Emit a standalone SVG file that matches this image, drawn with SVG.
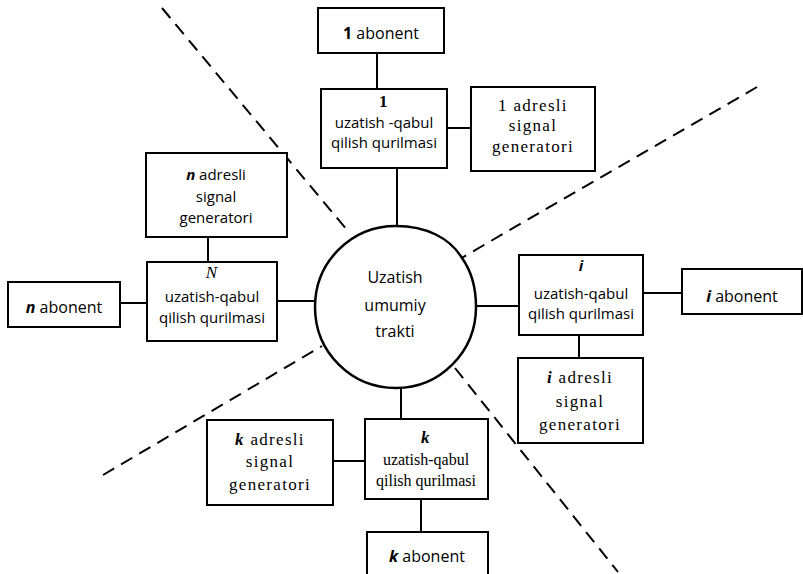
<svg xmlns="http://www.w3.org/2000/svg" width="803" height="574" viewBox="0 0 803 574">
<style>
.box{fill:#fff;stroke:#000;stroke-width:2}
.ln{stroke:#000;stroke-width:2;fill:none}
.dash{stroke:#000;stroke-width:2;fill:none;stroke-dasharray:13 8}
.s{font-family:"Open Sans","Liberation Sans",sans-serif;font-size:15px;fill:#000;text-anchor:middle}
.s16{font-size:16px}
.r{font-family:"Liberation Serif","Times New Roman",serif;font-size:17px;fill:#000;text-anchor:middle;letter-spacing:1.3px}
.r16{font-size:16px;letter-spacing:0}
.b{font-weight:bold}
.bi{font-weight:bold;font-style:italic}
.it{font-style:italic}
</style>
<rect width="803" height="574" fill="#fff"/>
<g id="dashes">
<line class="dash" x1="162" y1="8" x2="347" y2="230"/>
<line class="dash" x1="757" y1="87" x2="458" y2="260"/>
<line class="dash" x1="103" y1="475" x2="322" y2="346"/>
<line class="dash" x1="455" y1="368" x2="618" y2="572"/>
</g>
<g id="connectors">
<line class="ln" x1="377" y1="53" x2="377" y2="89"/>
<line class="ln" x1="447" y1="128" x2="471" y2="128"/>
<line class="ln" x1="397" y1="168" x2="397" y2="227"/>
<line class="ln" x1="208" y1="237" x2="208" y2="262"/>
<line class="ln" x1="120" y1="303" x2="147" y2="303"/>
<line class="ln" x1="277" y1="301" x2="316" y2="301"/>
<line class="ln" x1="475" y1="306" x2="519" y2="306"/>
<line class="ln" x1="643" y1="293" x2="682" y2="293"/>
<line class="ln" x1="579" y1="335" x2="579" y2="358"/>
<line class="ln" x1="401" y1="387" x2="401" y2="419"/>
<line class="ln" x1="333" y1="461" x2="365" y2="461"/>
<line class="ln" x1="421" y1="499" x2="421" y2="532"/>
</g>
<g id="trakt">
<path class="box" style="stroke-width:2.5px" d="M396 226 C426 226 450 238 462 258 C472 272 476 288 476 307 C476 352 440 388 396 388 C351 388 315 352 315 307 C315 262 351 226 396 226 Z"/>
<text class="s s16" x="395" y="283">Uzatish</text>
<text class="s s16" x="395" y="311">umumiy</text>
<text class="s s16" x="395" y="337">trakti</text>
</g>
<g id="ab1">
<rect class="box" x="318" y="8" width="126" height="45"/>
<text class="s s16" x="381" y="39"><tspan class="b">1</tspan> abonent</text>
</g>
<g id="dev1">
<rect class="box" x="321" y="89" width="126" height="79"/>
<text class="r b" x="384" y="107">1</text>
<text class="s" x="384" y="128">uzatish -qabul</text>
<text class="s" x="384" y="148">qilish qurilmasi</text>
</g>
<g id="gen1">
<rect class="box" x="471" y="87" width="124" height="84"/>
<text class="r" x="533" y="111">1 adresli</text>
<text class="r" x="533" y="131">signal</text>
<text class="r" x="533" y="152">generatori</text>
</g>
<g id="genn">
<rect class="box" x="146" y="153" width="141" height="84"/>
<text class="s" x="216" y="180"><tspan class="bi">n</tspan> adresli</text>
<text class="s" x="216" y="202">signal</text>
<text class="s" x="216" y="223">generatori</text>
</g>
<g id="devn">
<rect class="box" x="147" y="262" width="130" height="79"/>
<text class="r it" x="212" y="278">N</text>
<text class="s" x="212" y="302">uzatish-qabul</text>
<text class="s" x="212" y="323">qilish qurilmasi</text>
</g>
<g id="abn">
<rect class="box" x="8" y="282" width="112" height="45"/>
<text class="s s16" x="64" y="313"><tspan class="bi">n</tspan> abonent</text>
</g>
<g id="devi">
<rect class="box" x="519" y="255" width="124" height="80"/>
<text class="s bi" x="581" y="271">i</text>
<text class="s" x="581" y="299">uzatish-qabul</text>
<text class="s" x="581" y="319">qilish qurilmasi</text>
</g>
<g id="abi">
<rect class="box" x="682" y="269" width="120" height="45"/>
<text class="s s16" x="742" y="302"><tspan class="bi">i</tspan> abonent</text>
</g>
<g id="geni">
<rect class="box" x="518" y="358" width="125" height="85"/>
<text class="r" x="580" y="383"><tspan class="bi">i</tspan> adresli</text>
<text class="r" x="580" y="407">signal</text>
<text class="r" x="580" y="430">generatori</text>
</g>
<g id="genk">
<rect class="box" x="207" y="420" width="126" height="85"/>
<text class="r" x="270" y="445"><tspan class="bi">k</tspan> adresli</text>
<text class="r" x="270" y="467">signal</text>
<text class="r" x="270" y="490">generatori</text>
</g>
<g id="devk">
<rect class="box" x="365" y="419" width="123" height="80"/>
<text class="r bi" x="426" y="443">k</text>
<text class="r r16" x="426" y="465">uzatish-qabul</text>
<text class="r r16" x="426" y="486">qilish qurilmasi</text>
</g>
<g id="abk">
<rect class="box" x="367" y="532" width="121" height="46"/>
<text class="s s16" x="427" y="562"><tspan class="bi">k</tspan> abonent</text>
</g>
</svg>
